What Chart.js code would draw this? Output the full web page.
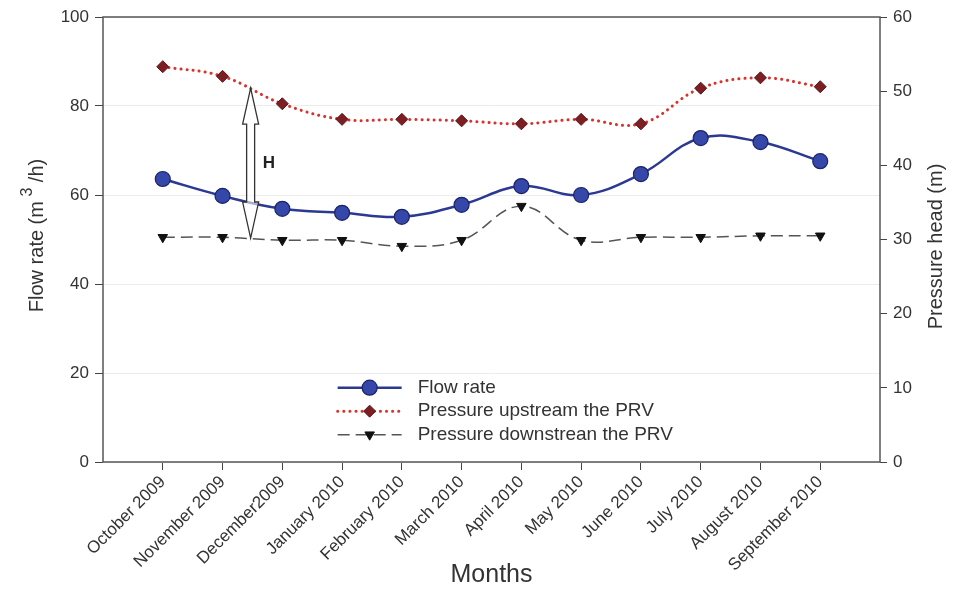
<!DOCTYPE html>
<html>
<head>
<meta charset="utf-8">
<script src="https://cdn.jsdelivr.net/npm/chart.js@4/dist/chart.umd.min.js"></script>
<style>
  body { margin: 0; background: #fff; }
  canvas { display: block; }
</style>
</head>
<body>
<canvas id="myChart" width="953" height="590"></canvas>
<script>
const months = ['October 2009', 'November 2009', 'December2009', 'January 2010', 'February 2010', 'March 2010',
    'April 2010', 'May 2010', 'June 2010', 'July 2010', 'August 2010', 'September 2010'];
const flowRate = [63.6, 59.8, 56.9, 56.0, 55.1, 57.8, 62.0, 60.0, 64.7, 72.8, 71.9, 67.6];
const upstream = [53.3, 52.0, 48.3, 46.2, 46.2, 46.0, 45.6, 46.2, 45.6, 50.4, 51.8, 50.6];
const downstream = [30.3, 30.3, 29.9, 29.9, 29.1, 29.9, 34.5, 29.9, 30.3, 30.3, 30.5, 30.5];
const flowTicks = [0, 20, 40, 60, 80, 100];
const headTicks = [0, 10, 20, 30, 40, 50, 60];
// head difference H marked between Nov and Dec
const hArrow = { from: 30.2, to: 50.4 };

// one empty slot on each side, like the original plot
const labels = ['', ...months, ''];
const pad = arr => [null, ...arr, null];

const FONT = "'Liberation Sans', Arial, sans-serif";

// draws rotated text pieces [text, size, raise] centred on (x, y)
function vText(ctx, x, y, parts) {
    ctx.save();
    ctx.translate(x, y);
    ctx.rotate(-Math.PI / 2);
    ctx.textBaseline = 'middle';
    ctx.textAlign = 'left';
    let total = 0;
    parts.forEach(p => { ctx.font = p[1] + 'px ' + FONT; total += ctx.measureText(p[0]).width; });
    let cx = -total / 2;
    parts.forEach(p => {
        ctx.font = p[1] + 'px ' + FONT;
        ctx.fillText(p[0], cx, -p[2]);
        cx += ctx.measureText(p[0]).width;
    });
    ctx.restore();
}

const frame = {
    id: 'frame',
    afterDraw(chart) {
        const { ctx, chartArea: a, scales } = chart;
        ctx.save();
        ctx.strokeStyle = '#555';
        ctx.lineWidth = 1.5;
        ctx.strokeRect(a.left, a.top, a.right - a.left, a.bottom - a.top);

        // axis titles
        ctx.fillStyle = '#333';
        const midY = (a.top + a.bottom) / 2;
        vText(ctx, a.left - 66, midY - 4, [['Flow rate (m', 20, 0], [' 3', 16, 9], [' /h)', 20, 0]]);
        vText(ctx, a.right + 56, midY + 7, [['Pressure head (m)', 20, 0]]);

        // H arrow
        const x2 = scales.x.getPixelForValue(2), x3 = scales.x.getPixelForValue(3);
        const ax = x2 + (x3 - x2) * 0.47;
        const yTop = scales.y2.getPixelForValue(hArrow.to);
        const yBot = scales.y2.getPixelForValue(hArrow.from);
        const sw = 4, hw = 8, hh = 36;
        ctx.beginPath();
        ctx.moveTo(ax, yTop);
        ctx.lineTo(ax + hw, yTop + hh);
        ctx.lineTo(ax + sw, yTop + hh);
        ctx.lineTo(ax + sw, yBot - hh);
        ctx.lineTo(ax + hw, yBot - hh);
        ctx.lineTo(ax, yBot);
        ctx.lineTo(ax - hw, yBot - hh);
        ctx.lineTo(ax - sw, yBot - hh);
        ctx.lineTo(ax - sw, yTop + hh);
        ctx.lineTo(ax - hw, yTop + hh);
        ctx.closePath();
        ctx.fillStyle = 'rgba(255,255,255,0.6)';
        ctx.fill();
        ctx.strokeStyle = '#333';
        ctx.lineWidth = 1.3;
        ctx.stroke();
        ctx.fillStyle = '#222';
        ctx.font = 'bold 17px ' + FONT;
        ctx.textBaseline = 'middle';
        ctx.fillText('H', ax + 12, (yTop + yBot) / 2);

        // legend inside plot
        const lx = a.left + (a.right - a.left) * 0.302;
        let ly = a.top + (a.bottom - a.top) * 0.833;
        ctx.font = '19px ' + FONT;
        chart.data.datasets.forEach(ds => {
            ctx.save();
            ctx.strokeStyle = ds.borderColor;
            ctx.lineWidth = ds.borderWidth;
            ctx.lineCap = ds.borderCapStyle || 'butt';
            ctx.setLineDash(ds.borderDash || []);
            ctx.beginPath();
            ctx.moveTo(lx, ly);
            ctx.lineTo(lx + 64, ly);
            ctx.stroke();
            ctx.restore();
            ctx.fillStyle = ds.pointBackgroundColor;
            ctx.strokeStyle = ds.pointBorderColor;
            ctx.lineWidth = ds.pointBorderWidth;
            Chart.helpers.drawPoint(ctx, {
                pointStyle: ds.pointStyle, radius: ds.pointRadius,
                rotation: ds.pointRotation || 0, borderWidth: ds.pointBorderWidth
            }, lx + 32, ly);
            ctx.fillStyle = '#333';
            ctx.textBaseline = 'middle';
            ctx.fillText(ds.label, lx + 80, ly);
            ly += 23.5;
        });
        ctx.restore();
    }
};

new Chart(document.getElementById('myChart'), {
    type: 'line',
    data: {
        labels: labels,
        datasets: [
            {
                label: 'Flow rate',
                data: pad(flowRate),
                yAxisID: 'y',
                borderColor: '#2b3990',
                borderWidth: 2.5,
                tension: 0.4,
                pointStyle: 'circle',
                pointRadius: 7.5,
                pointBackgroundColor: '#3547a8',
                pointBorderColor: '#1c2466',
                pointBorderWidth: 1.2,
            },
            {
                label: 'Pressure upstream the PRV',
                data: pad(upstream),
                yAxisID: 'y2',
                borderColor: '#d8322c',
                borderWidth: 3,
                borderDash: [0.1, 6],
                borderCapStyle: 'round',
                tension: 0.4,
                pointStyle: 'rectRot',
                pointRadius: 6,
                pointBackgroundColor: '#7d1e22',
                pointBorderColor: '#5a1418',
                pointBorderWidth: 1,
            },
            {
                label: 'Pressure downstrean the PRV',
                data: pad(downstream),
                yAxisID: 'y2',
                borderColor: '#555',
                borderWidth: 1.5,
                borderDash: [12, 6],
                tension: 0.4,
                pointStyle: 'triangle',
                pointRotation: 180,
                pointRadius: 5.5,
                pointBackgroundColor: '#111',
                pointBorderColor: '#111',
                pointBorderWidth: 1,
            },
        ],
    },
    options: {
        responsive: false,
        animation: false,
        layout: { padding: { top: 17 } },
        plugins: {
            legend: { display: false },
            tooltip: { enabled: false },
        },
        scales: {
            x: {
                afterFit: s => { s.height = 128; },
                grid: {
                    drawOnChartArea: false,
                    tickLength: 8,
                    tickColor: c => (labels[c.index] ? '#444' : 'rgba(0,0,0,0)'),
                },
                border: { display: false },
                ticks: {
                    autoSkip: false,
                    minRotation: 45,
                    maxRotation: 45,
                    padding: 2,
                    color: '#333',
                    font: { family: FONT, size: 17 },
                },
                title: {
                    display: true,
                    text: 'Months',
                    color: '#333',
                    font: { family: FONT, size: 25 },
                    padding: { top: 0, bottom: 0 },
                },
            },
            y: {
                position: 'left',
                min: 0,
                max: 100,
                afterFit: s => { s.width = 103; },
                afterBuildTicks: s => { s.ticks = flowTicks.map(v => ({ value: v })); },
                grid: { color: '#ececec', tickColor: '#444', tickLength: 8, lineWidth: 1 },
                border: { display: false },
                ticks: { padding: 6, color: '#333', font: { family: FONT, size: 17 } },
            },
            y2: {
                position: 'right',
                min: 0,
                max: 60,
                afterFit: s => { s.width = 73; },
                afterBuildTicks: s => { s.ticks = headTicks.map(v => ({ value: v })); },
                grid: { drawOnChartArea: false, tickColor: '#444', tickLength: 7 },
                border: { display: false },
                ticks: { padding: 6, color: '#333', font: { family: FONT, size: 17 } },
            },
        },
    },
    plugins: [frame],
});
</script>
</body>
</html>
